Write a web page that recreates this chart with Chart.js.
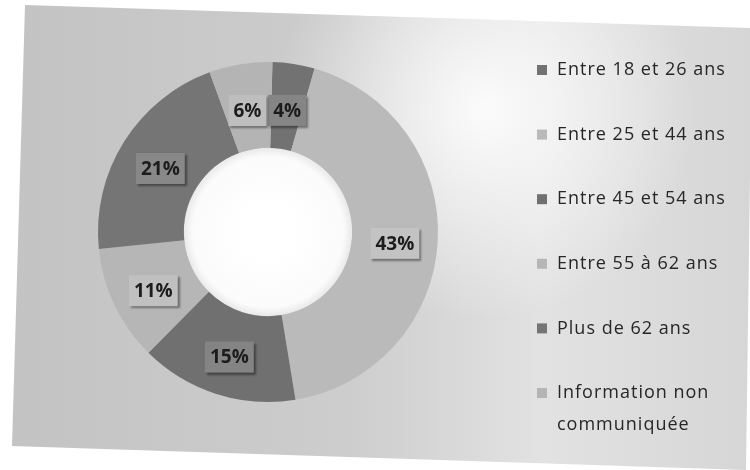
<!DOCTYPE html>
<html lang="fr">
<head>
<meta charset="utf-8">
<title>Répartition par âge</title>
<script src="https://cdn.jsdelivr.net/npm/chart.js@4.4.0/dist/chart.umd.min.js"></script>
<style>
  html, body { margin: 0; padding: 0; background: #ffffff; }
  #wrap { width: 750px; height: 470px; position: relative; }
</style>
</head>
<body>
<div id="wrap"><canvas id="ages"></canvas></div>
<script>
// age groups, in legend / slice order (clockwise from the top)
const categories = [
  'Entre 18 et 26 ans',
  'Entre 25 et 44 ans',
  'Entre 45 et 54 ans',
  'Entre 55 à 62 ans',
  'Plus de 62 ans',
  ['Information non', 'communiquée']
];
const shares = [4, 43, 15, 11, 21, 6];
const sliceColors = ['#727272', '#bababa', '#707070', '#b6b6b6', '#757575', '#b4b4b4'];

const FONT = '"Open Sans", "DejaVu Sans", sans-serif';

// grey card behind the whole chart, with a soft light spot
const cardBackground = {
  id: 'cardBackground',
  beforeDraw(chart) {
    const ctx = chart.ctx;
    ctx.save();
    ctx.beginPath();
    ctx.moveTo(25, 5);
    ctx.lineTo(752, 28);
    ctx.lineTo(746, 470);
    ctx.lineTo(12, 446);
    ctx.closePath();
    const g = ctx.createLinearGradient(12, 0, 750, 0);
    g.addColorStop(0, '#c3c3c3');
    g.addColorStop(0.45, '#cdcdcd');
    g.addColorStop(0.72, '#e2e2e2');
    g.addColorStop(1, '#d6d6d6');
    ctx.fillStyle = g;
    ctx.fill();
    ctx.clip();
    const glow = ctx.createRadialGradient(485, 110, 10, 485, 110, 210);
    glow.addColorStop(0, 'rgba(255,255,255,0.85)');
    glow.addColorStop(1, 'rgba(255,255,255,0)');
    ctx.fillStyle = glow;
    ctx.fillRect(0, 0, 750, 470);
    ctx.restore();
  }
};

// white hole in the middle of the ring
const holeFill = {
  id: 'holeFill',
  beforeDatasetsDraw(chart) {
    const arc = chart.getDatasetMeta(0).data[0];
    if (!arc) return;
    const { x, y, innerRadius } = arc.getProps(['x', 'y', 'innerRadius'], true);
    const ctx = chart.ctx;
    ctx.save();
    const g = ctx.createRadialGradient(x, y, innerRadius * 0.3, x, y, innerRadius);
    g.addColorStop(0, '#ffffff');
    g.addColorStop(0.85, '#fbfbfb');
    g.addColorStop(1, '#e9e9e9');
    ctx.fillStyle = g;
    ctx.beginPath();
    ctx.arc(x, y, innerRadius, 0, Math.PI * 2);
    ctx.fill();
    ctx.restore();
  }
};

// percentage tags sitting on each slice
const percentTags = {
  id: 'percentTags',
  afterDatasetsDraw(chart) {
    const ctx = chart.ctx;
    const meta = chart.getDatasetMeta(0);
    const values = chart.data.datasets[0].data;
    ctx.save();
    ctx.font = 'bold 19px ' + FONT;
    ctx.textAlign = 'center';
    ctx.textBaseline = 'middle';
    meta.data.forEach((arc, i) => {
      const pos = arc.tooltipPosition();
      const cx = pos.x, cy = pos.y + 4;
      const text = values[i] + '%';
      const w = ctx.measureText(text).width + 10;
      const h = 31;
      ctx.save();
      ctx.shadowColor = 'rgba(0,0,0,0.4)';
      ctx.shadowBlur = 2;
      ctx.shadowOffsetX = 2;
      ctx.shadowOffsetY = 2;
      ctx.fillStyle = sliceColors[i];
      ctx.fillRect(cx - w / 2, cy - h / 2, w, h);
      ctx.restore();
      ctx.fillStyle = 'rgba(255,255,255,0.14)';
      ctx.fillRect(cx - w / 2, cy - h / 2, w, h);
      ctx.fillStyle = '#1c1c1c';
      ctx.fillText(text, cx, cy + 1);
    });
    ctx.restore();
  }
};

// legend column on the right
const ageLegend = {
  id: 'ageLegend',
  afterDraw(chart) {
    const ctx = chart.ctx;
    const left = 537, top = 70, step = 64.6, lineGap = 32;
    ctx.save();
    ctx.font = '18px ' + FONT;
    ctx.letterSpacing = '1px';
    ctx.textBaseline = 'middle';
    ctx.textAlign = 'left';
    chart.data.labels.forEach((label, i) => {
      const y = top + i * step;
      ctx.fillStyle = sliceColors[i];
      ctx.fillRect(left, y - 5, 10, 10);
      ctx.fillStyle = '#262626';
      const lines = Array.isArray(label) ? label : [label];
      lines.forEach((line, j) => ctx.fillText(line, left + 20, y + j * lineGap));
    });
    ctx.restore();
  }
};

new Chart(document.getElementById('ages'), {
  type: 'doughnut',
  data: {
    labels: categories,
    datasets: [{
      data: shares,
      backgroundColor: sliceColors,
      borderWidth: 0
    }]
  },
  options: {
    responsive: true,
    maintainAspectRatio: false,
    animation: false,
    rotation: 1.5,
    radius: 170,
    cutout: '49.5%',
    layout: { padding: { left: 0, right: 214, top: 0, bottom: 6 } },
    plugins: {
      legend: { display: false },
      tooltip: { enabled: true }
    }
  },
  plugins: [cardBackground, holeFill, percentTags, ageLegend]
});
</script>
</body>
</html>
